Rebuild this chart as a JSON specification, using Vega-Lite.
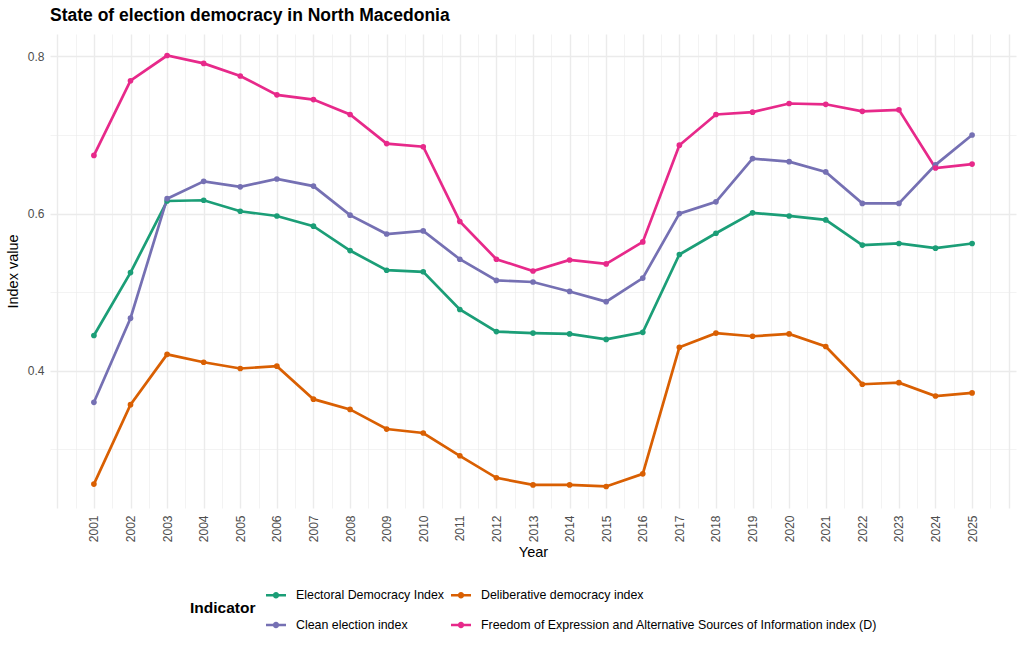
{
  "$schema": "https://vega.github.io/schema/vega-lite/v6.json",
  "width": 966,
  "height": 474,
  "autosize": {"type": "none"},
  "padding": {"left": 50, "top": 34, "right": 8, "bottom": 144},
  "background": "white",
  "title": {
    "text": "State of election democracy in North Macedonia",
    "anchor": "start",
    "frame": "group",
    "font": "Liberation Sans",
    "fontSize": 17.5,
    "fontWeight": "bold",
    "color": "black",
    "offset": 10
  },
  "config": {
    "view": {"stroke": null},
    "font": "Liberation Sans",
    "axis": {
      "domain": false,
      "ticks": false,
      "gridColor": "#EBEBEB",
      "labelColor": "#4D4D4D",
      "labelFont": "Liberation Sans",
      "labelFontSize": 12,
      "titleFont": "Liberation Sans",
      "titleFontSize": 14.5,
      "titleFontWeight": "normal",
      "titleColor": "black",
      "labelOverlap": false,
      "labelFlush": false
    }
  },
  "data": {
    "values": [
      {"year": 2001, "indicator": "Electoral Democracy Index", "value": 0.445},
      {"year": 2002, "indicator": "Electoral Democracy Index", "value": 0.525},
      {"year": 2003, "indicator": "Electoral Democracy Index", "value": 0.616},
      {"year": 2004, "indicator": "Electoral Democracy Index", "value": 0.617},
      {"year": 2005, "indicator": "Electoral Democracy Index", "value": 0.603},
      {"year": 2006, "indicator": "Electoral Democracy Index", "value": 0.597},
      {"year": 2007, "indicator": "Electoral Democracy Index", "value": 0.584},
      {"year": 2008, "indicator": "Electoral Democracy Index", "value": 0.553},
      {"year": 2009, "indicator": "Electoral Democracy Index", "value": 0.528},
      {"year": 2010, "indicator": "Electoral Democracy Index", "value": 0.526},
      {"year": 2011, "indicator": "Electoral Democracy Index", "value": 0.478},
      {"year": 2012, "indicator": "Electoral Democracy Index", "value": 0.450},
      {"year": 2013, "indicator": "Electoral Democracy Index", "value": 0.448},
      {"year": 2014, "indicator": "Electoral Democracy Index", "value": 0.447},
      {"year": 2015, "indicator": "Electoral Democracy Index", "value": 0.440},
      {"year": 2016, "indicator": "Electoral Democracy Index", "value": 0.449},
      {"year": 2017, "indicator": "Electoral Democracy Index", "value": 0.548},
      {"year": 2018, "indicator": "Electoral Democracy Index", "value": 0.575},
      {"year": 2019, "indicator": "Electoral Democracy Index", "value": 0.601},
      {"year": 2020, "indicator": "Electoral Democracy Index", "value": 0.597},
      {"year": 2021, "indicator": "Electoral Democracy Index", "value": 0.592},
      {"year": 2022, "indicator": "Electoral Democracy Index", "value": 0.560},
      {"year": 2023, "indicator": "Electoral Democracy Index", "value": 0.562},
      {"year": 2024, "indicator": "Electoral Democracy Index", "value": 0.556},
      {"year": 2025, "indicator": "Electoral Democracy Index", "value": 0.562},
      {"year": 2001, "indicator": "Deliberative democracy index", "value": 0.256},
      {"year": 2002, "indicator": "Deliberative democracy index", "value": 0.357},
      {"year": 2003, "indicator": "Deliberative democracy index", "value": 0.421},
      {"year": 2004, "indicator": "Deliberative democracy index", "value": 0.411},
      {"year": 2005, "indicator": "Deliberative democracy index", "value": 0.403},
      {"year": 2006, "indicator": "Deliberative democracy index", "value": 0.406},
      {"year": 2007, "indicator": "Deliberative democracy index", "value": 0.364},
      {"year": 2008, "indicator": "Deliberative democracy index", "value": 0.351},
      {"year": 2009, "indicator": "Deliberative democracy index", "value": 0.326},
      {"year": 2010, "indicator": "Deliberative democracy index", "value": 0.321},
      {"year": 2011, "indicator": "Deliberative democracy index", "value": 0.292},
      {"year": 2012, "indicator": "Deliberative democracy index", "value": 0.264},
      {"year": 2013, "indicator": "Deliberative democracy index", "value": 0.255},
      {"year": 2014, "indicator": "Deliberative democracy index", "value": 0.255},
      {"year": 2015, "indicator": "Deliberative democracy index", "value": 0.253},
      {"year": 2016, "indicator": "Deliberative democracy index", "value": 0.269},
      {"year": 2017, "indicator": "Deliberative democracy index", "value": 0.430},
      {"year": 2018, "indicator": "Deliberative democracy index", "value": 0.448},
      {"year": 2019, "indicator": "Deliberative democracy index", "value": 0.444},
      {"year": 2020, "indicator": "Deliberative democracy index", "value": 0.447},
      {"year": 2021, "indicator": "Deliberative democracy index", "value": 0.431},
      {"year": 2022, "indicator": "Deliberative democracy index", "value": 0.383},
      {"year": 2023, "indicator": "Deliberative democracy index", "value": 0.385},
      {"year": 2024, "indicator": "Deliberative democracy index", "value": 0.368},
      {"year": 2025, "indicator": "Deliberative democracy index", "value": 0.372},
      {"year": 2001, "indicator": "Clean election index", "value": 0.360},
      {"year": 2002, "indicator": "Clean election index", "value": 0.467},
      {"year": 2003, "indicator": "Clean election index", "value": 0.619},
      {"year": 2004, "indicator": "Clean election index", "value": 0.641},
      {"year": 2005, "indicator": "Clean election index", "value": 0.634},
      {"year": 2006, "indicator": "Clean election index", "value": 0.644},
      {"year": 2007, "indicator": "Clean election index", "value": 0.635},
      {"year": 2008, "indicator": "Clean election index", "value": 0.598},
      {"year": 2009, "indicator": "Clean election index", "value": 0.574},
      {"year": 2010, "indicator": "Clean election index", "value": 0.578},
      {"year": 2011, "indicator": "Clean election index", "value": 0.542},
      {"year": 2012, "indicator": "Clean election index", "value": 0.515},
      {"year": 2013, "indicator": "Clean election index", "value": 0.513},
      {"year": 2014, "indicator": "Clean election index", "value": 0.501},
      {"year": 2015, "indicator": "Clean election index", "value": 0.488},
      {"year": 2016, "indicator": "Clean election index", "value": 0.518},
      {"year": 2017, "indicator": "Clean election index", "value": 0.600},
      {"year": 2018, "indicator": "Clean election index", "value": 0.615},
      {"year": 2019, "indicator": "Clean election index", "value": 0.670},
      {"year": 2020, "indicator": "Clean election index", "value": 0.666},
      {"year": 2021, "indicator": "Clean election index", "value": 0.653},
      {"year": 2022, "indicator": "Clean election index", "value": 0.613},
      {"year": 2023, "indicator": "Clean election index", "value": 0.613},
      {"year": 2024, "indicator": "Clean election index", "value": 0.662},
      {"year": 2025, "indicator": "Clean election index", "value": 0.700},
      {"year": 2001, "indicator": "Freedom of Expression and Alternative Sources of Information index (D)", "value": 0.674},
      {"year": 2002, "indicator": "Freedom of Expression and Alternative Sources of Information index (D)", "value": 0.769},
      {"year": 2003, "indicator": "Freedom of Expression and Alternative Sources of Information index (D)", "value": 0.801},
      {"year": 2004, "indicator": "Freedom of Expression and Alternative Sources of Information index (D)", "value": 0.791},
      {"year": 2005, "indicator": "Freedom of Expression and Alternative Sources of Information index (D)", "value": 0.775},
      {"year": 2006, "indicator": "Freedom of Expression and Alternative Sources of Information index (D)", "value": 0.751},
      {"year": 2007, "indicator": "Freedom of Expression and Alternative Sources of Information index (D)", "value": 0.745},
      {"year": 2008, "indicator": "Freedom of Expression and Alternative Sources of Information index (D)", "value": 0.726},
      {"year": 2009, "indicator": "Freedom of Expression and Alternative Sources of Information index (D)", "value": 0.689},
      {"year": 2010, "indicator": "Freedom of Expression and Alternative Sources of Information index (D)", "value": 0.685},
      {"year": 2011, "indicator": "Freedom of Expression and Alternative Sources of Information index (D)", "value": 0.590},
      {"year": 2012, "indicator": "Freedom of Expression and Alternative Sources of Information index (D)", "value": 0.542},
      {"year": 2013, "indicator": "Freedom of Expression and Alternative Sources of Information index (D)", "value": 0.527},
      {"year": 2014, "indicator": "Freedom of Expression and Alternative Sources of Information index (D)", "value": 0.541},
      {"year": 2015, "indicator": "Freedom of Expression and Alternative Sources of Information index (D)", "value": 0.536},
      {"year": 2016, "indicator": "Freedom of Expression and Alternative Sources of Information index (D)", "value": 0.564},
      {"year": 2017, "indicator": "Freedom of Expression and Alternative Sources of Information index (D)", "value": 0.687},
      {"year": 2018, "indicator": "Freedom of Expression and Alternative Sources of Information index (D)", "value": 0.726},
      {"year": 2019, "indicator": "Freedom of Expression and Alternative Sources of Information index (D)", "value": 0.729},
      {"year": 2020, "indicator": "Freedom of Expression and Alternative Sources of Information index (D)", "value": 0.740},
      {"year": 2021, "indicator": "Freedom of Expression and Alternative Sources of Information index (D)", "value": 0.739},
      {"year": 2022, "indicator": "Freedom of Expression and Alternative Sources of Information index (D)", "value": 0.730},
      {"year": 2023, "indicator": "Freedom of Expression and Alternative Sources of Information index (D)", "value": 0.732},
      {"year": 2024, "indicator": "Freedom of Expression and Alternative Sources of Information index (D)", "value": 0.658},
      {"year": 2025, "indicator": "Freedom of Expression and Alternative Sources of Information index (D)", "value": 0.663}
    ]
  },
  "encoding": {
    "x": {
      "field": "year",
      "type": "quantitative",
      "title": "Year",
      "scale": {"domain": [1999.8, 2026.2], "nice": false, "zero": false},
      "axis": {
        "values": [2000, 2000.5, 2001, 2001.5, 2002, 2002.5, 2003, 2003.5, 2004, 2004.5, 2005, 2005.5, 2006, 2006.5, 2007, 2007.5, 2008, 2008.5, 2009, 2009.5, 2010, 2010.5, 2011, 2011.5, 2012, 2012.5, 2013, 2013.5, 2014, 2014.5, 2015, 2015.5, 2016, 2016.5, 2017, 2017.5, 2018, 2018.5, 2019, 2019.5, 2020, 2020.5, 2021, 2021.5, 2022, 2022.5, 2023, 2023.5, 2024, 2024.5, 2025, 2025.5, 2026],
        "labelExpr": "(datum.value % 1 === 0 && datum.value >= 2001 && datum.value <= 2025) ? toString(datum.value) : ''",
        "labelAngle": -90,
        "labelAlign": "right",
        "labelBaseline": "middle",
        "labelPadding": 7,
        "titlePadding": 4,
        "gridWidth": {"condition": {"test": "datum.value % 1 !== 0", "value": 0.6}, "value": 1.4}
      }
    },
    "y": {
      "field": "value",
      "type": "quantitative",
      "title": "Index value",
      "scale": {"domain": [0.2256, 0.8284], "nice": false, "zero": false},
      "axis": {
        "values": [0.3, 0.4, 0.5, 0.6, 0.7, 0.8],
        "labelExpr": "round(datum.value * 10) % 2 === 0 ? format(datum.value, '.1f') : ''",
        "labelPadding": 6,
        "titlePadding": 7,
        "gridWidth": {"condition": {"test": "round(datum.value * 10) % 2 === 1", "value": 0.6}, "value": 1.4}
      }
    },
    "color": {
      "field": "indicator",
      "type": "nominal",
      "title": "Indicator",
      "scale": {
        "domain": ["Electoral Democracy Index", "Deliberative democracy index", "Clean election index", "Freedom of Expression and Alternative Sources of Information index (D)"],
        "range": ["#1B9E77", "#D95F02", "#7570B3", "#E7298A"]
      },
      "legend": {
        "orient": "none",
        "legendX": 140,
        "legendY": 551,
        "direction": "horizontal",
        "columns": 2,
        "titleOrient": "left",
        "titleAnchor": "middle",
        "titleBaseline": "middle",
        "titleFontSize": 15.5,
        "titleFontWeight": "bold",
        "titleColor": "black",
        "titlePadding": 10,
        "labelFontSize": 12.4,
        "labelColor": "black",
        "labelLimit": 500,
        "symbolType": "M-1,-0.13H1V0.13H-1Z M0,-0.32A0.32,0.32 0 1,1 0,0.32A0.32,0.32 0 1,1 0,-0.32Z",
        "symbolSize": 400,
        "symbolStrokeWidth": 0,
        "symbolOpacity": 1,
        "rowPadding": 13,
        "columnPadding": 6,
        "labelOffset": 10
      }
    }
  },
  "layer": [
    {"mark": {"type": "line", "strokeWidth": 2.7}},
    {"mark": {"type": "point", "filled": true, "size": 32, "opacity": 1}}
  ]
}
